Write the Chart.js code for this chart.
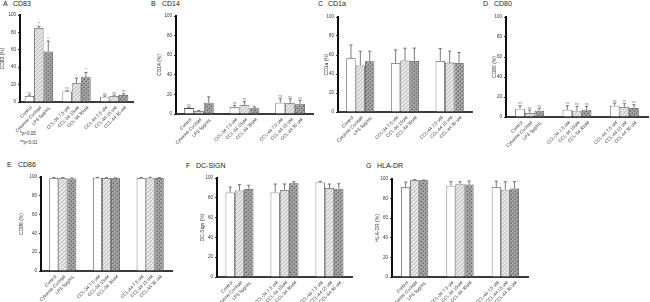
<!DOCTYPE html>
<html lang="en">
<head>
  <meta charset="UTF-8" />
  <title>DC surface markers</title>
  <script src="https://cdn.jsdelivr.net/npm/chart.js"></script>
  <style>
    body { margin: 0; padding: 0; background: #fff; font-family: 'Liberation Sans', Arial, sans-serif; }
    #wrap { position: relative; width: 650px; height: 302px; overflow: hidden; }
    #wrap canvas { position: absolute; }
    .ttl { position: absolute; font-size: 7px; color: #222; white-space: nowrap; }
    .note { position: absolute; font-size: 4.5px; color: #333; white-space: nowrap; }
  </style>
</head>
<body>
  <div id="wrap">
    <div class="note" style="left:20px; top:131px;">*p&lt;0.05</div>
    <div class="note" style="left:20px; top:140px;">**p&lt;0.01</div>
  </div>

  <script>
    // categories, in bar order (3 groups of 3)
    const categories = ['Control', 'Cytokine Cocktail', 'LPS 5μg/mL',
      'CCL-34 7.5 uM', 'CCL-34 15uM', 'CCL-34 30uM',
      'CCL-44 7.5 uM', 'CCL-44 15 uM', 'CCL-44 30 uM'];
    const groupNames = ['Controls', 'CCL-34', 'CCL-44'];
    const yTicks = [0, 20, 40, 60, 80, 100];

    const cd83Values = [7, 85, 58, 12, 21.5, 29, 6, 7, 8];
    const cd83Errors = [1, 2, 12, 1, 6, 5, 1, 1, 1.5];
    const cd83Marks  = ['ns', '**', '**', 'ns', '*', '**', 'ns', 'ns', 'ns'];

    const cd14Values = [6, 3, 11.5, 6.8, 8.9, 5.8, 11.5, 11, 10];
    const cd14Errors = [1, 0.5, 6, 2, 3.7, 1.5, 4.5, 4.5, 4];
    const cd14Marks  = ['ns', '', '', 'ns', 'ns', '', 'ns', 'ns', 'ns'];

    const cd1aValues = [56.6, 49, 53.5, 51.4, 54.2, 53.8, 53.8, 52, 51.7];
    const cd1aErrors = [14, 15, 10.5, 14, 13, 13.5, 13, 12, 11];

    const cd80Values = [8.3, 4, 6.3, 7.3, 6.3, 7.3, 11.3, 10, 9];
    const cd80Errors = [3, 3, 2.5, 4, 4.4, 3.3, 2.7, 3.3, 3.3];
    const cd80Marks  = ['ns', 'ns', 'ns', 'ns', 'ns', 'ns', 'ns', 'ns', 'ns'];

    const cd86Values = [99, 98.8, 98.5, 99.2, 98.9, 98.6, 99, 99.2, 99];
    const cd86Errors = [0.5, 0.5, 0.5, 0.4, 0.5, 0.5, 0.4, 0.5, 0.5];

    const dcsignValues = [85.4, 87.5, 89, 85.4, 88, 94.6, 95.5, 89.9, 89.2];
    const dcsignErrors = [5.5, 5.8, 3.7, 8.5, 6, 1.7, 1, 4, 5];

    const hladrValues = [91.5, 98.6, 98.6, 93.2, 95.2, 94.5, 91.8, 89, 90.4];
    const hladrErrors = [5.4, 0.7, 0.4, 4, 2, 3.4, 6, 8.2, 7];

    const panels = [
      { letter: 'A', name: 'CD83', yTitle: 'CD83 (%)', values: cd83Values, errors: cd83Errors, marks: cd83Marks,
        box: { ax: 20, top: 15, bottom: 102, right: 133, yw: 20, cat: 0.75, tx: 3, ty: 0, nx: 13 } },
      { letter: 'B', name: 'CD14', yTitle: 'CD14 (%)', values: cd14Values, errors: cd14Errors, marks: cd14Marks,
        box: { ax: 176, top: 16, bottom: 114, right: 313, yw: 19, cat: 0.65, tx: 151, ty: 0, nx: 162 } },
      { letter: 'C', name: 'CD1a', yTitle: 'CD1a (%)', values: cd1aValues, errors: cd1aErrors, marks: null,
        box: { ax: 338, top: 17, bottom: 112, right: 472, yw: 14, cat: 0.63, tx: 318, ty: 0, nx: 328 } },
      { letter: 'D', name: 'CD80', yTitle: 'CD80 (%)', values: cd80Values, errors: cd80Errors, marks: cd80Marks,
        box: { ax: 506, top: 17, bottom: 117, right: 648, yw: 14, cat: 0.61, tx: 483, ty: 0, nx: 494 } },
      { letter: 'E', name: 'CD86', yTitle: 'CD86 (%)', values: cd86Values, errors: cd86Errors, marks: null,
        box: { ax: 41, top: 177, bottom: 271, right: 172, yw: 22, cat: 0.62, tx: 7, ty: 161, nx: 18 } },
      { letter: 'F', name: 'DC-SIGN', yTitle: 'DC-Sign (%)', values: dcsignValues, errors: dcsignErrors, marks: null,
        box: { ax: 217, top: 178, bottom: 277, right: 352, yw: 17, cat: 0.62, tx: 186, ty: 162, nx: 196 } },
      { letter: 'G', name: 'HLA-DR', yTitle: 'HLA-DR (%)', values: hladrValues, errors: hladrErrors, marks: null,
        box: { ax: 392, top: 179, bottom: 277, right: 528, yw: 17, cat: 0.6, tx: 366, ty: 162, nx: 377 } }
    ];

    const PAD_T = 8, PAD_B = 34;
    const wrap = document.getElementById('wrap');

    // small tiled fills for the hatched bars
    function makeFill(bg, fg, dots) {
      const c = document.createElement('canvas');
      c.width = 4; c.height = 4;
      const g = c.getContext('2d');
      g.fillStyle = bg; g.fillRect(0, 0, 4, 4);
      g.strokeStyle = fg; g.lineWidth = 0.8;
      g.beginPath(); g.moveTo(-1, 5); g.lineTo(5, -1); g.stroke();
      if (dots) {
        g.fillStyle = dots;
        g.fillRect(0, 0, 1, 1); g.fillRect(2, 2, 1, 1);
      }
      return g.createPattern(c, 'repeat');
    }
    const fills = [
      '#ffffff',
      makeFill('#e4e4e4', '#b4b4b4', null),
      makeFill('#a6a6a6', '#7e7e7e', '#6a6a6a')
    ];

    function decor(p) {
      return {
        id: 'decor' + p.letter,
        afterDatasetsDraw(chart) {
          const ctx = chart.ctx, ys = chart.scales.y, area = chart.chartArea;
          ctx.save();
          for (let d = 0; d < 3; d++) {
            chart.getDatasetMeta(d).data.forEach((bar, g) => {
              const i = g * 3 + d;
              const yTop = ys.getPixelForValue(p.values[i] + p.errors[i]);
              // error bar
              ctx.strokeStyle = '#555';
              ctx.lineWidth = 0.8;
              ctx.beginPath();
              ctx.moveTo(bar.x, bar.y); ctx.lineTo(bar.x, yTop);
              ctx.moveTo(bar.x - 1.6, yTop); ctx.lineTo(bar.x + 1.6, yTop);
              ctx.stroke();
              // significance mark
              if (p.marks && p.marks[i]) {
                ctx.fillStyle = '#777';
                ctx.font = '3.5px "Liberation Sans"';
                ctx.textAlign = 'center';
                ctx.textBaseline = 'bottom';
                ctx.fillText(p.marks[i], bar.x, yTop - 0.5);
              }
              // rotated category label
              ctx.save();
              ctx.translate(bar.x + 2, area.bottom + 5);
              ctx.rotate(-Math.PI / 4);
              ctx.fillStyle = '#333';
              ctx.font = '4.5px "Liberation Sans"';
              ctx.textAlign = 'right';
              ctx.textBaseline = 'middle';
              ctx.fillText(categories[i], 0, 0);
              ctx.restore();
            });
          }
          ctx.restore();
        }
      };
    }

    panels.forEach(p => {
      const b = p.box;

      const t1 = document.createElement('div');
      t1.className = 'ttl'; t1.textContent = p.letter;
      t1.style.left = b.tx + 'px'; t1.style.top = b.ty + 'px';
      const t2 = document.createElement('div');
      t2.className = 'ttl'; t2.textContent = p.name;
      t2.style.left = b.nx + 'px'; t2.style.top = b.ty + 'px';
      wrap.appendChild(t1); wrap.appendChild(t2);

      const cv = document.createElement('canvas');
      const left = b.ax - b.yw, top = b.top - PAD_T;
      cv.width = b.right - left + 6;
      cv.height = b.bottom - top + PAD_B;
      cv.style.left = left + 'px';
      cv.style.top = top + 'px';
      wrap.appendChild(cv);

      const datasets = [0, 1, 2].map(d => ({
        data: [0, 1, 2].map(g => p.values[g * 3 + d]),
        backgroundColor: fills[d],
        borderColor: '#4a4a4a',
        borderWidth: 0.8,
        categoryPercentage: b.cat,
        barPercentage: 1
      }));

      new Chart(cv, {
        type: 'bar',
        data: { labels: groupNames, datasets },
        options: {
          responsive: false,
          animation: false,
          devicePixelRatio: 1,
          layout: { padding: { top: PAD_T, bottom: PAD_B, left: 0, right: 6 } },
          plugins: { legend: { display: false }, tooltip: { enabled: false } },
          scales: {
            x: {
              grid: { display: false },
              border: { display: true, color: '#3a3a3a', width: 2 },
              ticks: { display: false },
              afterFit: s => { s.height = 0; }
            },
            y: {
              min: 0, max: 100,
              afterBuildTicks: s => { s.ticks = yTicks.map(v => ({ value: v })); },
              afterFit: s => { s.width = b.yw; },
              grid: { drawOnChartArea: false, tickLength: 2, color: '#333' },
              border: { color: '#111', width: 2 },
              ticks: { font: { size: 4.5, family: 'Liberation Sans' }, color: '#333', padding: 2 },
              title: { display: true, text: p.yTitle, font: { size: 5, family: 'Liberation Sans' }, color: '#333', padding: 0 }
            }
          }
        },
        plugins: [decor(p)]
      });
    });
  </script>
</body>
</html>
